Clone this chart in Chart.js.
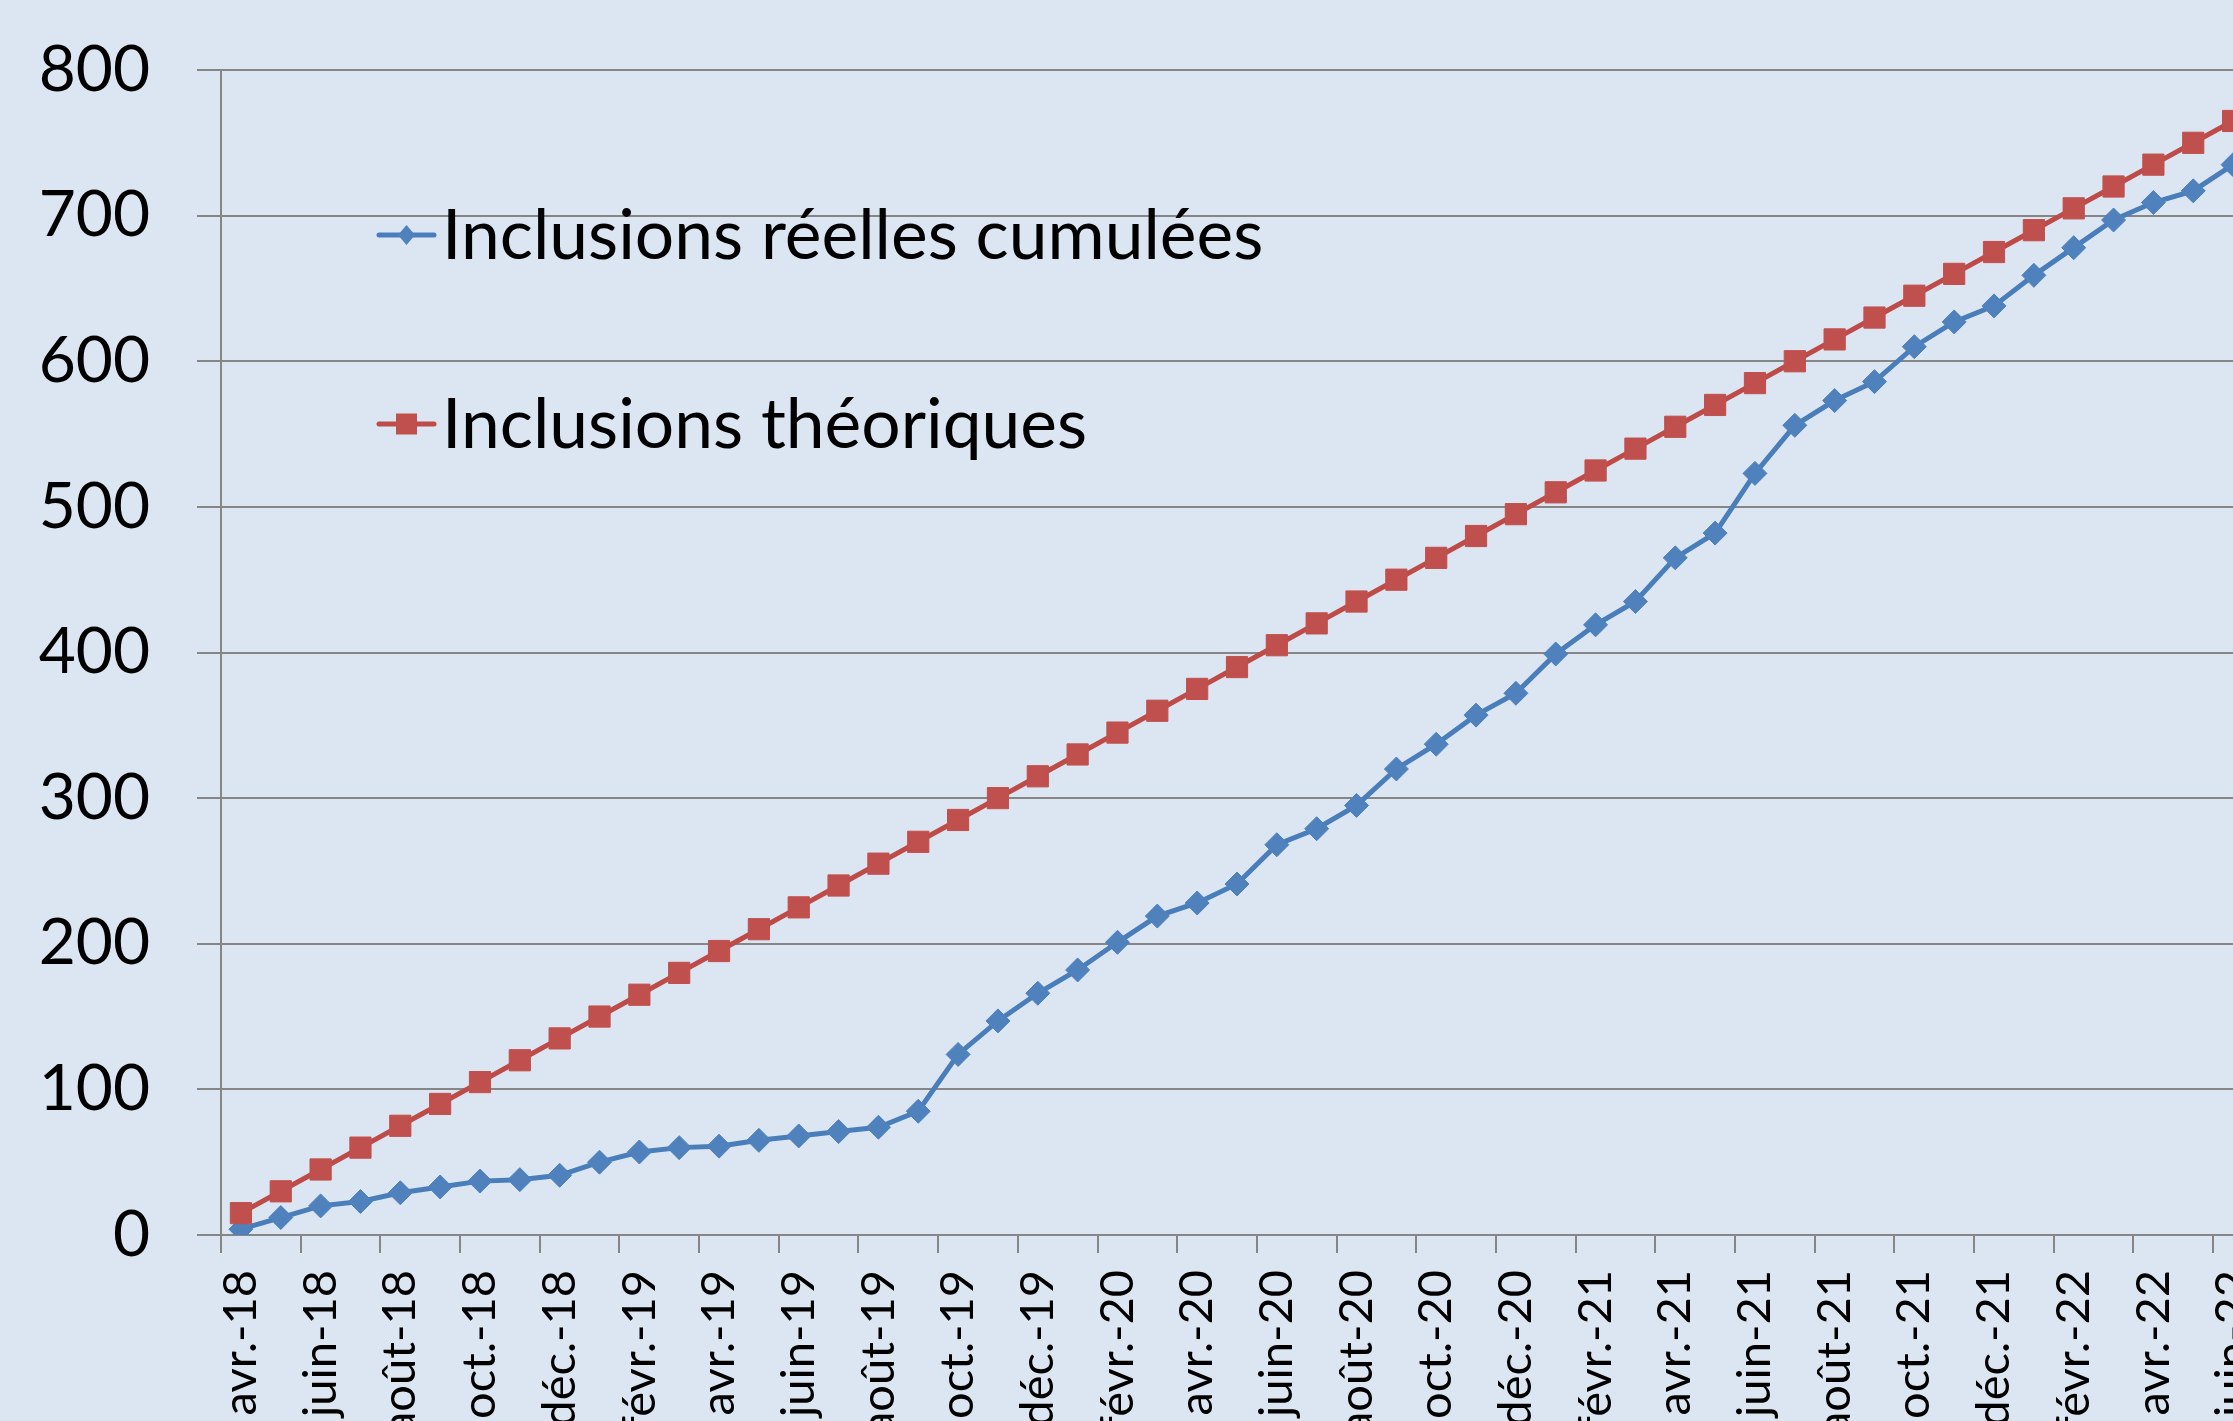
<!DOCTYPE html>
<html>
<head>
<meta charset="utf-8">
<script src="https://cdn.jsdelivr.net/npm/chart.js@4/dist/chart.umd.min.js"></script>
<style>
  html, body { margin: 0; padding: 0; width: 2233px; height: 1421px; overflow: hidden; background: #DCE6F2; }
  #wrap { position: absolute; left: 0; top: 0; width: 2253px; height: 1435px; }
  canvas { display: block; background: #DCE6F2; }
</style>
</head>
<body>
<div id="wrap"><canvas id="c" width="2253" height="1435"></canvas></div>
<script>
const months = [
  'avr.-18','mai-18','juin-18','juil.-18','août-18','sept.-18','oct.-18','nov.-18','déc.-18',
  'janv.-19','févr.-19','mars-19','avr.-19','mai-19','juin-19','juil.-19','août-19','sept.-19','oct.-19','nov.-19','déc.-19',
  'janv.-20','févr.-20','mars-20','avr.-20','mai-20','juin-20','juil.-20','août-20','sept.-20','oct.-20','nov.-20','déc.-20',
  'janv.-21','févr.-21','mars-21','avr.-21','mai-21','juin-21','juil.-21','août-21','sept.-21','oct.-21','nov.-21','déc.-21',
  'janv.-22','févr.-22','mars-22','avr.-22','mai-22','juin-22'
];
const inclusionsReelles = [
  4, 12, 20, 23, 29, 33, 37, 38, 41,
  50, 57, 60, 61, 65, 68, 71, 74, 85, 124, 147, 166,
  182, 201, 219, 228, 241, 268, 279, 295, 320, 337, 357, 372,
  399, 419, 435, 465, 482, 523, 556, 573, 586, 610, 627, 638,
  659, 678, 697, 709, 717, 735
];
const inclusionsTheoriques = [
  15, 30, 45, 60, 75, 90, 105, 120, 135,
  150, 165, 180, 195, 210, 225, 240, 255, 270, 285, 300, 315,
  330, 345, 360, 375, 390, 405, 420, 435, 450, 465, 480, 495,
  510, 525, 540, 555, 570, 585, 600, 615, 630, 645, 660, 675,
  690, 705, 720, 735, 750, 765
];
const seriesNames = ['Inclusions réelles cumulées', 'Inclusions théoriques'];
const yTicks = [0, 100, 200, 300, 400, 500, 600, 700, 800];

const GRID = '#868686';
const FONT = 'Lato';

const legendPlugin = {
  id: 'insideLegend',
  afterDraw(chart) {
    const ctx = chart.ctx;
    const area = chart.chartArea;
    const offsets = [165, 354];
    chart.data.datasets.forEach((ds, i) => {
      const cy = area.top + offsets[i];
      const x0 = area.left + 158, x1 = area.left + 213, cx = (x0 + x1) / 2;
      ctx.save();
      ctx.strokeStyle = ds.borderColor;
      ctx.lineWidth = 5;
      ctx.lineCap = 'round';
      ctx.beginPath(); ctx.moveTo(x0, cy); ctx.lineTo(x1, cy); ctx.stroke();
      ctx.fillStyle = ds.pointBackgroundColor;
      ctx.beginPath();
      if (ds.pointStyle === 'rectRot') {
        const r = 10;
        ctx.moveTo(cx, cy - r); ctx.lineTo(cx + r * 0.85, cy); ctx.lineTo(cx, cy + r); ctx.lineTo(cx - r * 0.85, cy);
        ctx.closePath();
      } else {
        const s = 10.5;
        ctx.rect(cx - s, cy - s, 2 * s, 2 * s);
      }
      ctx.fill();
      ctx.fillStyle = '#000';
      ctx.font = '69.5px ' + FONT;
      ctx.textAlign = 'left';
      ctx.textBaseline = 'alphabetic';
      ctx.fillText(ds.label, x1 + 8, cy + 24);
      ctx.restore();
    });
  }
};

new Chart(document.getElementById('c'), {
  type: 'line',
  data: {
    labels: months,
    datasets: [
      {
        label: seriesNames[0],
        data: inclusionsReelles,
        borderColor: '#4A7EBB',
        backgroundColor: '#4F81BD',
        pointBackgroundColor: '#4F81BD',
        pointBorderColor: '#4F81BD',
        pointBorderWidth: 1,
        borderWidth: 5,
        pointStyle: 'rectRot',
        pointRadius: 12,
        tension: 0,
        order: 2
      },
      {
        label: seriesNames[1],
        data: inclusionsTheoriques,
        borderColor: '#BE4B48',
        backgroundColor: '#C0504D',
        pointBackgroundColor: '#C0504D',
        pointBorderColor: '#C0504D',
        pointBorderWidth: 1,
        borderWidth: 5,
        pointStyle: 'rect',
        pointRadius: 15,
        tension: 0,
        order: 1
      }
    ]
  },
  options: {
    responsive: false,
    animation: false,
    events: [],
    layout: { autoPadding: false, padding: { left: 0, right: 0, top: 70, bottom: 0 } },
    plugins: { legend: { display: false }, tooltip: { enabled: false }, title: { display: false } },
    scales: {
      x: {
        type: 'category',
        offset: true,
        border: { display: true, color: GRID, width: 2 },
        grid: {
          offset: true,
          drawOnChartArea: false,
          drawTicks: true,
          tickLength: 18,
          lineWidth: 2,
          color: (c) => (c.index % 2 === 0 ? GRID : 'rgba(0,0,0,0)')
        },
        ticks: {
          autoSkip: false,
          minRotation: 90,
          maxRotation: 90,
          padding: 17,
          color: '#000',
          font: { family: FONT, size: 47 },
          callback: function (v, i) { return i % 2 === 0 ? this.getLabelForValue(v) : ''; }
        },
        afterFit(scale) {
          scale.height = 200;
          scale.paddingLeft = 0;
          scale.paddingRight = 0;
        }
      },
      y: {
        min: 0,
        max: 800,
        afterBuildTicks(scale) { scale.ticks = yTicks.map(v => ({ value: v })); },
        border: { display: true, color: GRID, width: 2 },
        grid: { color: GRID, lineWidth: 2, tickLength: 24, drawTicks: true },
        ticks: {
          padding: 47,
          color: '#000',
          font: { family: FONT, size: 64 }
        },
        afterFit(scale) {
          scale.width = 221;
          scale.paddingTop = 0;
          scale.paddingBottom = 0;
        }
      }
    }
  },
  plugins: [legendPlugin]
});
</script>
</body>
</html>
